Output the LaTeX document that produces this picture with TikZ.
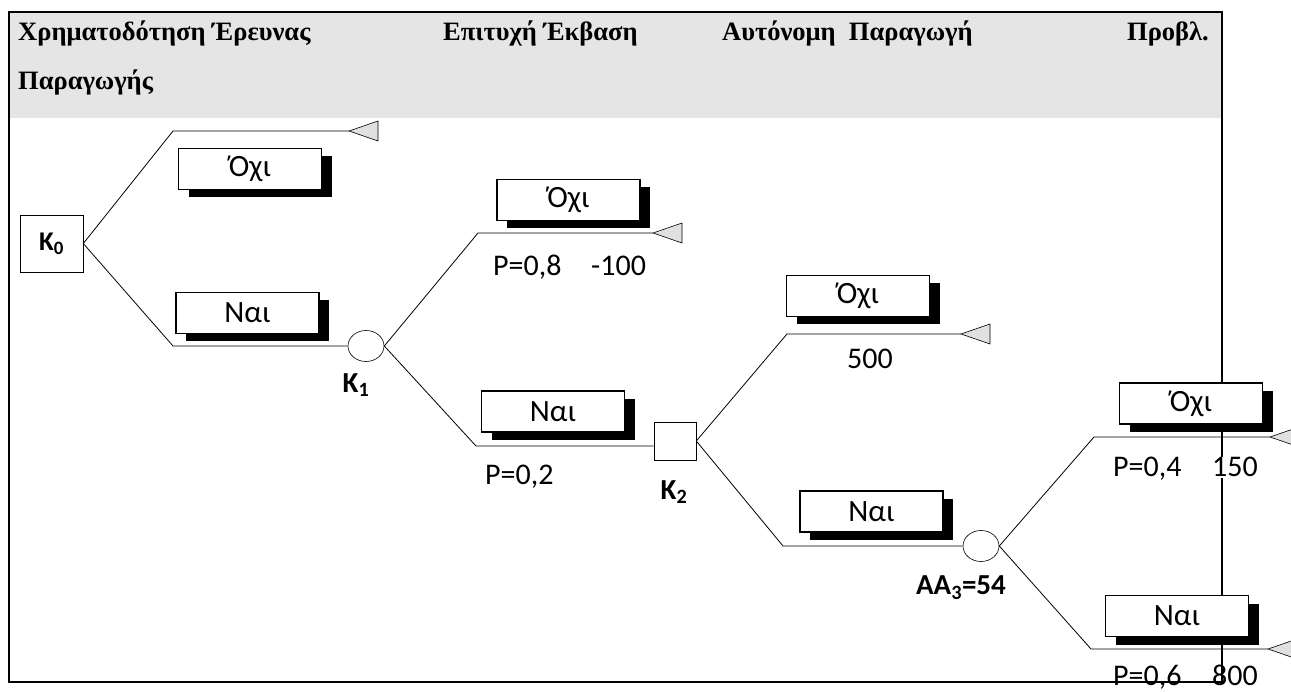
\documentclass[tikz,border=0pt]{standalone}
\usepackage{fontspec}
\setmainfont{Carlito}
\newfontfamily\hdrfont{Liberation Serif}
\usetikzlibrary{shapes.geometric,shadows}
\definecolor{hdrgray}{HTML}{E5E5E5}
\definecolor{trigray}{HTML}{E0E0E0}
\tikzset{
  hdr/.style={font=\hdrfont\bfseries\fontsize{26.5}{30}\selectfont, anchor=base west, inner sep=0pt},
  lbl/.style={font=\fontsize{30}{32}\selectfont, inner sep=1pt, anchor=base west},
  blbl/.style={font=\bfseries\fontsize{29}{31}\selectfont, inner sep=0pt},
  choice/.style={draw, fill=white, line width=1.3pt, minimum width=143pt, minimum height=41pt,
    inner sep=0pt, font=\fontsize{31}{33}\selectfont,
    drop shadow={shadow xshift=10pt, shadow yshift=-8pt, fill=black, opacity=1}},
  decbox/.style={draw, fill=white, line width=0.6pt, inner sep=0pt},
  chance/.style={ellipse, draw, fill=white, line width=0.6pt, minimum width=36pt, minimum height=31pt, inner sep=0pt},
  br/.style={line width=0.8pt},
  term/.style={draw, line width=0.6pt, fill=trigray},
}
\newcommand{\sub}[1]{\textsubscript{#1}}
\begin{document}
\begin{tikzpicture}[x=1pt,y=-1pt]
\useasboundingbox (0,0) rectangle (1291,692);
% header and frame
\fill[hdrgray] (10,13) rectangle (1221,118);
\draw[line width=2pt] (9,12) rectangle (1222,682);
\node[hdr] (h1) at (18,41) {Χρηματοδότηση Έρευνας};
\node[hdr] (h2) at (18,90) {Παραγωγής};
\node[hdr] (h3) at (443,41) {Επιτυχή Έκβαση};
\node[hdr] (h4) at (722,41) {Αυτόνομη\ \ Παραγωγή};
\node[hdr, anchor=base east] (h5) at (1209,41) {Προβλ.};

% decision and chance nodes
\node[decbox, minimum width=63pt, minimum height=57pt, font=\bfseries\fontsize{27}{29}\selectfont] (K0) at (51.5,243.5) {K\sub{0}};
\node[chance] (K1) at (366,346) {};
\node[decbox, minimum width=42pt, minimum height=38pt] (K2) at (675,441) {};
\node[chance] (K3) at (981,546) {};

% coordinates
\coordinate (u0) at (173,131); \coordinate (t0) at (349,131);
\coordinate (l0) at (173,346);
\coordinate (u1) at (478,233); \coordinate (t1) at (653,233);
\coordinate (l1) at (476,446);
\coordinate (u2) at (787,334); \coordinate (t2) at (961,334);
\coordinate (l2) at (783,546);
\coordinate (u3) at (1094,437); \coordinate (t3) at (1270,437);
\coordinate (l3) at (1091,649); \coordinate (t4) at (1268,649);

% branches
\draw[br] (K0.east) -- (u0) -- (t0);
\draw[br] (K0.east) -- (l0) -- (K1.west);
\draw[br] (K1.east) -- (u1) -- (t1);
\draw[br] (K1.east) -- (l1) -- (l1 -| K2.west);
\draw[br] (K2.east) -- (u2) -- (t2);
\draw[br] (K2.east) -- (l2) -- (K3.west);
\draw[br] (K3.east) -- (u3) -- (t3);
\draw[br] (K3.east) -- (l3) -- (t4);

% terminal triangles
\foreach \t in {t0,t1,t2,t3,t4}
  \draw[term] (\t) -- ++(29,-10) -- ++(0,20) -- cycle;

% choice boxes
\node[choice] (o0) at (250,169) {Όχι};
\node[choice] (n0) at (247.5,313) {Ναι};
\node[choice] (o1) at (568.5,200) {Όχι};
\node[choice] (n1) at (553,411.5) {Ναι};
\node[choice] (o2) at (858,296) {Όχι};
\node[choice] (n2) at (871.5,511.5) {Ναι};
\node[choice] (o3) at (1191,403.5) {Όχι};
\node[choice] (n3) at (1177,616) {Ναι};

% labels
\node[blbl] (k1l) at (356,385) {K\sub{1}};
\node[blbl] (k2l) at (674,492) {K\sub{2}};
\node[blbl] (k3l) at (961,588) {AA\sub{3}=54};
\node[lbl] (p1) at (492,276) {P=0,8};
\node[lbl] (v1) at (590,276) {-100};
\node[lbl] (p2) at (484,484) {P=0,2};
\node[lbl] (v2) at (846,369) {500};
\node[lbl] (p3) at (1112,477) {P=0,4};
\node[lbl, fill=white] (v3) at (1211,477) {150};
\node[lbl] (p4) at (1112,685) {P=0,6};
\node[lbl] (v4) at (1211,685) {800};
\end{tikzpicture}
\end{document}
